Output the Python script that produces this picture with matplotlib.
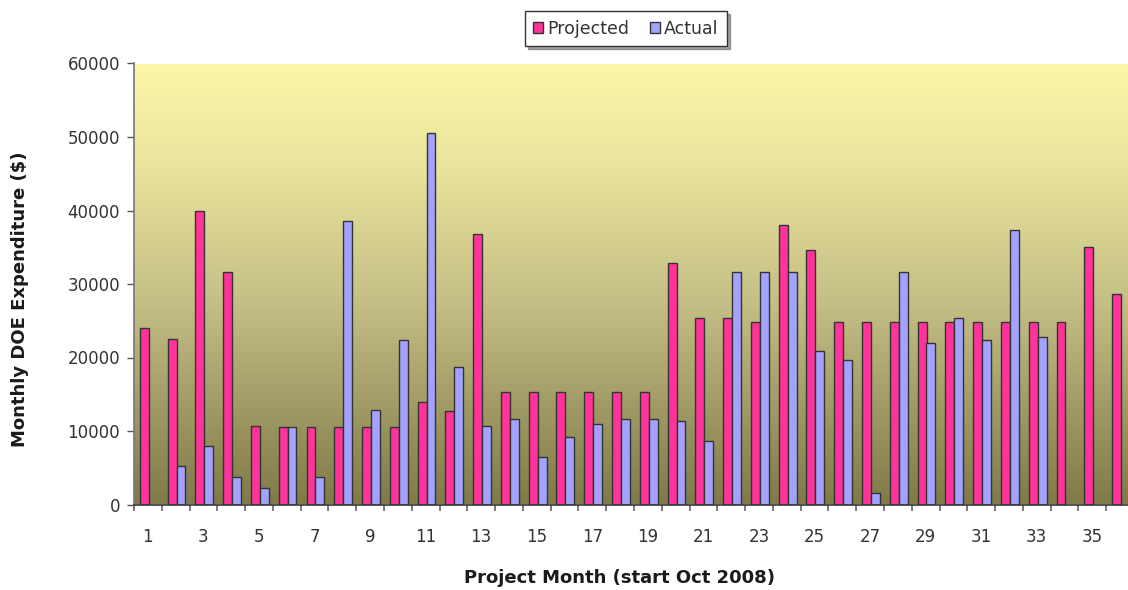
import numpy as np
import matplotlib
matplotlib.use("Agg")
import matplotlib.pyplot as plt
from matplotlib.colors import LinearSegmentedColormap

months = list(range(1, 37))
projected = [24000, 22500, 40000, 31600, 10700, 10500, 10500, 10500, 10500, 10500,
             13900, 12700, 36800, 15300, 15300, 15300, 15300, 15300, 15300, 32800,
             25400, 25400, 24800, 38000, 34600, 24800, 24800, 24800, 24800, 24800,
             24800, 24800, 24800, 24800, 35000, 28600]
actual = [0, 5300, 8000, 3800, 2200, 10500, 3800, 38600, 12900, 22400,
          50600, 18700, 10700, 11600, 6500, 9200, 11000, 11600, 11600, 11300,
          8600, 31600, 31600, 31600, 20900, 19600, 1500, 31600, 22000, 25400,
          22400, 37400, 22800, 0, 0, 0]
x_labels = [str(m) for m in range(1, 37, 2)]
y_ticks = [0, 10000, 20000, 30000, 40000, 50000, 60000]

plt.rcParams['font.family'] = ['DejaVu Sans']

W, H = 1128, 590
fig = plt.figure(figsize=(W / 100, H / 100), dpi=100)
fig.patch.set_facecolor('white')
ax = fig.add_axes([134 / W, (590 - 504.5) / H, 1000 / W, 441 / H])

# gradient background
cmap = LinearSegmentedColormap.from_list(
    'bg', [(0.0, '#7f7a48'), (0.45, '#c3be84'), (0.75, '#e8e29c'), (1.0, '#fcf8a8')])
grad = np.linspace(0, 1, 256).reshape(-1, 1)
ax.imshow(grad, cmap=cmap, aspect='auto', origin='lower',
          extent=[0.5, 36.5, 0, 60000], zorder=0)

x = np.array(months, dtype=float)
w = 0.32
pink = '#ff3399'
blue = '#a3a3ff'
act = np.array(actual, dtype=float)
ax.bar(x - w / 2 + 0.03, projected, width=w, color=pink, edgecolor='#333333',
       linewidth=1.0, zorder=2, label='Projected')
mask = act > 0
ax.bar((x + w / 2 + 0.03)[mask], act[mask], width=w, color=blue, edgecolor='#333333',
       linewidth=1.0, zorder=2, label='Actual')

ax.set_xlim(0.5, 36.5)
ax.set_ylim(0, 60000)
ax.set_yticks(y_ticks)
ax.set_yticklabels([str(v) for v in y_ticks], fontsize=12, color='#333333')
ax.set_xticks(list(range(1, 37, 2)))
ax.set_xticklabels(x_labels, fontsize=12, color='#333333')
ax.tick_params(axis='x', which='major', length=0, pad=17)
ax.set_xticks(np.arange(0.5, 36.6, 1.0), minor=True)
ax.tick_params(axis='x', which='minor', length=4, width=1.2, color='#666666')
ax.tick_params(axis='y', length=5, width=1.0, color='#555555', pad=5)

for s in ['top', 'right']:
    ax.spines[s].set_visible(False)
ax.spines['left'].set_color('#777777')
ax.spines['left'].set_linewidth(1.2)
ax.spines['bottom'].set_color('#333333')
ax.spines['bottom'].set_linewidth(1.2)

ax.set_ylabel('Monthly DOE Expenditure ($)', fontsize=13, fontweight='bold',
              color='#1a1a1a')
ax.yaxis.set_label_coords((29 - 134) / 1000, (504.5 - 299) / 441)
ax.set_xlabel('Project Month (start Oct 2008)', fontsize=13, fontweight='bold',
              color='#1a1a1a')
ax.xaxis.set_label_coords((619 - 134) / 1000, (504.5 - 569) / 441)

leg = fig.legend(loc='upper center', bbox_to_anchor=(626 / W, 1 - 11 / H), ncol=2,
                 fontsize=12.5, frameon=True, fancybox=False, shadow=True,
                 handlelength=0.55, handleheight=0.55, handletextpad=0.25,
                 columnspacing=1.2, borderpad=0.5, borderaxespad=0)
leg.get_frame().set_edgecolor('#333333')
leg.get_frame().set_linewidth(1.0)
for t in leg.get_texts():
    t.set_color('#333333')

fig.savefig('out.png', dpi=100)
